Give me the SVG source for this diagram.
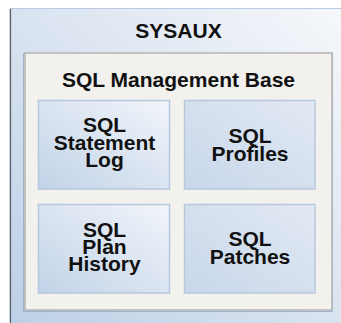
<svg xmlns="http://www.w3.org/2000/svg" width="341" height="323" viewBox="0 0 341 323">
<defs>
<linearGradient id="gOuter" x1="0" y1="1" x2="1" y2="0">
<stop offset="0" stop-color="#bccfe6"/>
<stop offset="0.6" stop-color="#dfe7f2"/>
<stop offset="1" stop-color="#f6f8fb"/>
</linearGradient>
<linearGradient id="gCellA" x1="0" y1="1" x2="1" y2="0">
<stop offset="0" stop-color="#c2d3e8"/>
<stop offset="1" stop-color="#f2f5fa"/>
</linearGradient>
<linearGradient id="gCellB" x1="0" y1="1" x2="1" y2="0">
<stop offset="0" stop-color="#c8d7ea"/>
<stop offset="1" stop-color="#e2e9f3"/>
</linearGradient>
</defs>
<style>
text{font-family:"Liberation Sans",Arial,sans-serif;font-weight:bold;fill:#111;text-anchor:middle;font-size:21px}
.cell{stroke:#b6c8de;stroke-width:1.5}
</style>
<rect x="0" y="0" width="341" height="323" fill="#ffffff"/>
<g id="sysaux">
<rect x="10" y="8.5" width="340" height="330" fill="url(#gOuter)" stroke="#b8cbe3" stroke-width="1"/>
<line x1="10.5" y1="9" x2="10.5" y2="323" stroke="#5a5f66" stroke-width="1.2"/>
<text x="178.5" y="38">SYSAUX</text>
</g>
<g id="smb">
<rect x="23.5" y="53.5" width="309" height="258" fill="none" stroke="#9eb2cb" stroke-width="1"/>
<rect x="25" y="53" width="307" height="257" fill="#f2f1ee" stroke="#b5b5b5" stroke-width="1.5"/>
<text x="178.5" y="87">SQL Management Base</text>
</g>
<g id="stmtlog">
<rect class="cell" x="38.5" y="100.5" width="131" height="88.5" fill="url(#gCellA)"/>
<text x="104.5" y="132">SQL<tspan x="104.5" dy="17.5">Statement</tspan><tspan x="104.5" dy="17.5">Log</tspan></text>
</g>
<g id="profiles">
<rect class="cell" x="184.5" y="100.5" width="130.5" height="88.5" fill="url(#gCellB)"/>
<text x="250" y="142.5">SQL<tspan x="250" dy="18">Profiles</tspan></text>
</g>
<g id="planhist">
<rect class="cell" x="38.5" y="204.5" width="131" height="88.5" fill="url(#gCellA)"/>
<text x="104.5" y="236.5">SQL<tspan x="104.5" dy="17.2">Plan</tspan><tspan x="104.5" dy="17.3">History</tspan></text>
</g>
<g id="patches">
<rect class="cell" x="184.5" y="204.5" width="130.5" height="88.5" fill="url(#gCellB)"/>
<text x="250" y="246">SQL<tspan x="250" dy="18">Patches</tspan></text>
</g>
<g id="connectors"></g>
</svg>
